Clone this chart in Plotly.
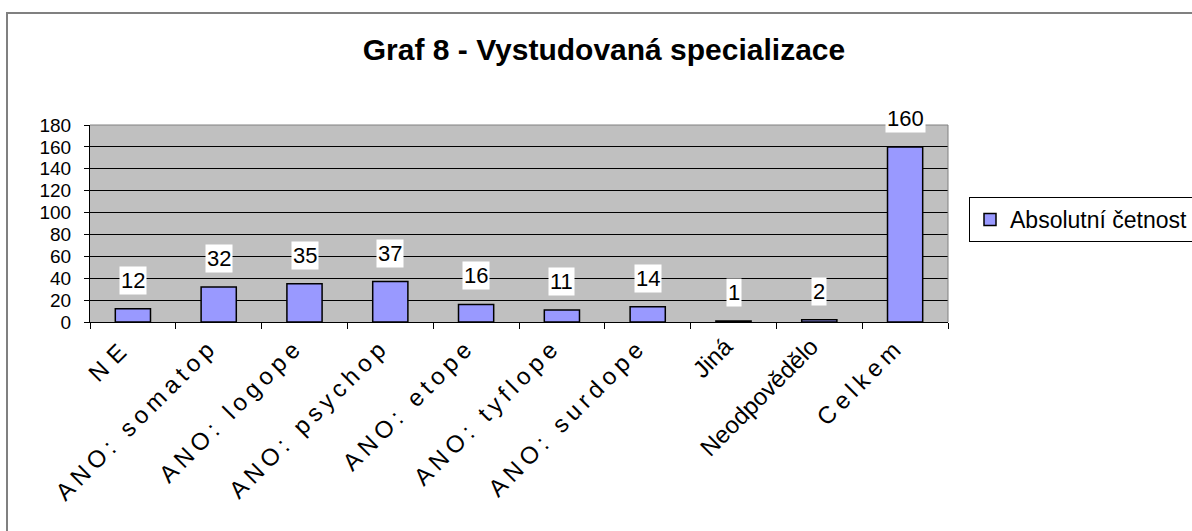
import plotly.graph_objects as go

# ---- data ----
categories = ["NE", "ANO: somatop", "ANO: logope", "ANO: psychop", "ANO: etope",
              "ANO: tyflope", "ANO: surdope", "Jiná", "Neodpovědělo", "Celkem"]
values = [12, 32, 35, 37, 16, 11, 14, 1, 2, 160]
series_name = "Absolutní četnost"
title_text = "Graf 8 - Vystudovaná specializace"
y_ticks = [0, 20, 40, 60, 80, 100, 120, 140, 160, 180]

# ---- layout geometry (pixels) ----
W, H = 1192, 531
PL, PR, PT, PB = 90, 948, 125, 322
FONT = "Arial, Liberation Sans, sans-serif"

def px_to_paper_x(px):
    return (px - PL) / (PR - PL)

def px_to_paper_y(py):
    return (PB - py) / (PB - PT)

fig = go.Figure()
fig.add_trace(go.Bar(
    x=categories, y=values, name=series_name,
    marker=dict(color="#9999FF", line=dict(color="black", width=1.5)),
    showlegend=True,
))

annotations = []
for c, v in zip(categories, values):
    annotations.append(dict(
        x=c, y=v, xref="x", yref="y", text=str(v), showarrow=False,
        yanchor="bottom", yshift=14, bgcolor="white", borderpad=1,
        font=dict(family=FONT, size=22, color="black"),
    ))

shapes = [
    # outer chart border (top and left visible)
    dict(type="rect", xref="paper", yref="paper",
         x0=px_to_paper_x(7), x1=px_to_paper_x(1220),
         y0=px_to_paper_y(560), y1=px_to_paper_y(13),
         line=dict(color="#808080", width=2), fillcolor="rgba(0,0,0,0)", layer="below"),
    # plot-area top and right edges
    dict(type="line", xref="paper", yref="paper", x0=0, x1=1, y0=1, y1=1,
         line=dict(color="#808080", width=1)),
    dict(type="line", xref="paper", yref="paper", x0=1, x1=1, y0=0, y1=1,
         line=dict(color="#808080", width=1)),
]

fig.update_layout(
    width=W, height=H,
    margin=dict(l=PL, r=W - PR, t=PT, b=H - PB, autoexpand=False),
    paper_bgcolor="white", plot_bgcolor="#C0C0C0",
    bargap=0.59,
    title=dict(text=title_text, x=604 / W, y=1 - 49 / H, xanchor="center", yanchor="middle",
               font=dict(family=FONT, size=30, color="black", weight="bold")),
    font=dict(family=FONT, color="black"),
    xaxis=dict(
        tickangle=-45, tickfont=dict(family=FONT, size=24, color="black"),
        showline=True, linecolor="black", linewidth=1,
        ticks="outside", tickson="boundaries", ticklen=6, tickcolor="black",
        ticklabelshift=-8,
        showgrid=False,
    ),
    yaxis=dict(
        range=[0, 180], tickvals=y_ticks, tickfont=dict(family=FONT, size=19, color="black"),
        showline=True, linecolor="black", linewidth=1,
        ticks="outside", ticklen=5, tickcolor="black", ticklabelstandoff=9,
        showgrid=True, gridcolor="black", gridwidth=1, zeroline=False,
    ),
    legend=dict(
        x=px_to_paper_x(969), y=px_to_paper_y(219.5), xanchor="left", yanchor="middle",
        bgcolor="white", bordercolor="black", borderwidth=1,
        font=dict(family=FONT, size=23, color="black"),
        itemwidth=30,
    ),
    annotations=annotations,
    shapes=shapes,
)

# page without body margin; Excel-style wide letter spacing for rotated labels
post = """
document.body.style.margin = '0';
var gd = document.getElementById('{plot_id}');
var plain = ['Jiná', 'Neodpovědělo'];
gd.querySelectorAll('.xtick text').forEach(function(t){
  var s = t.textContent;
  if (s === 'NE') { t.style.letterSpacing = '8px'; }
  else if (plain.indexOf(s) < 0) { t.style.letterSpacing = '5px'; }
});
"""
fig.write_html("out.html", post_script=post, config={"displayModeBar": False})
